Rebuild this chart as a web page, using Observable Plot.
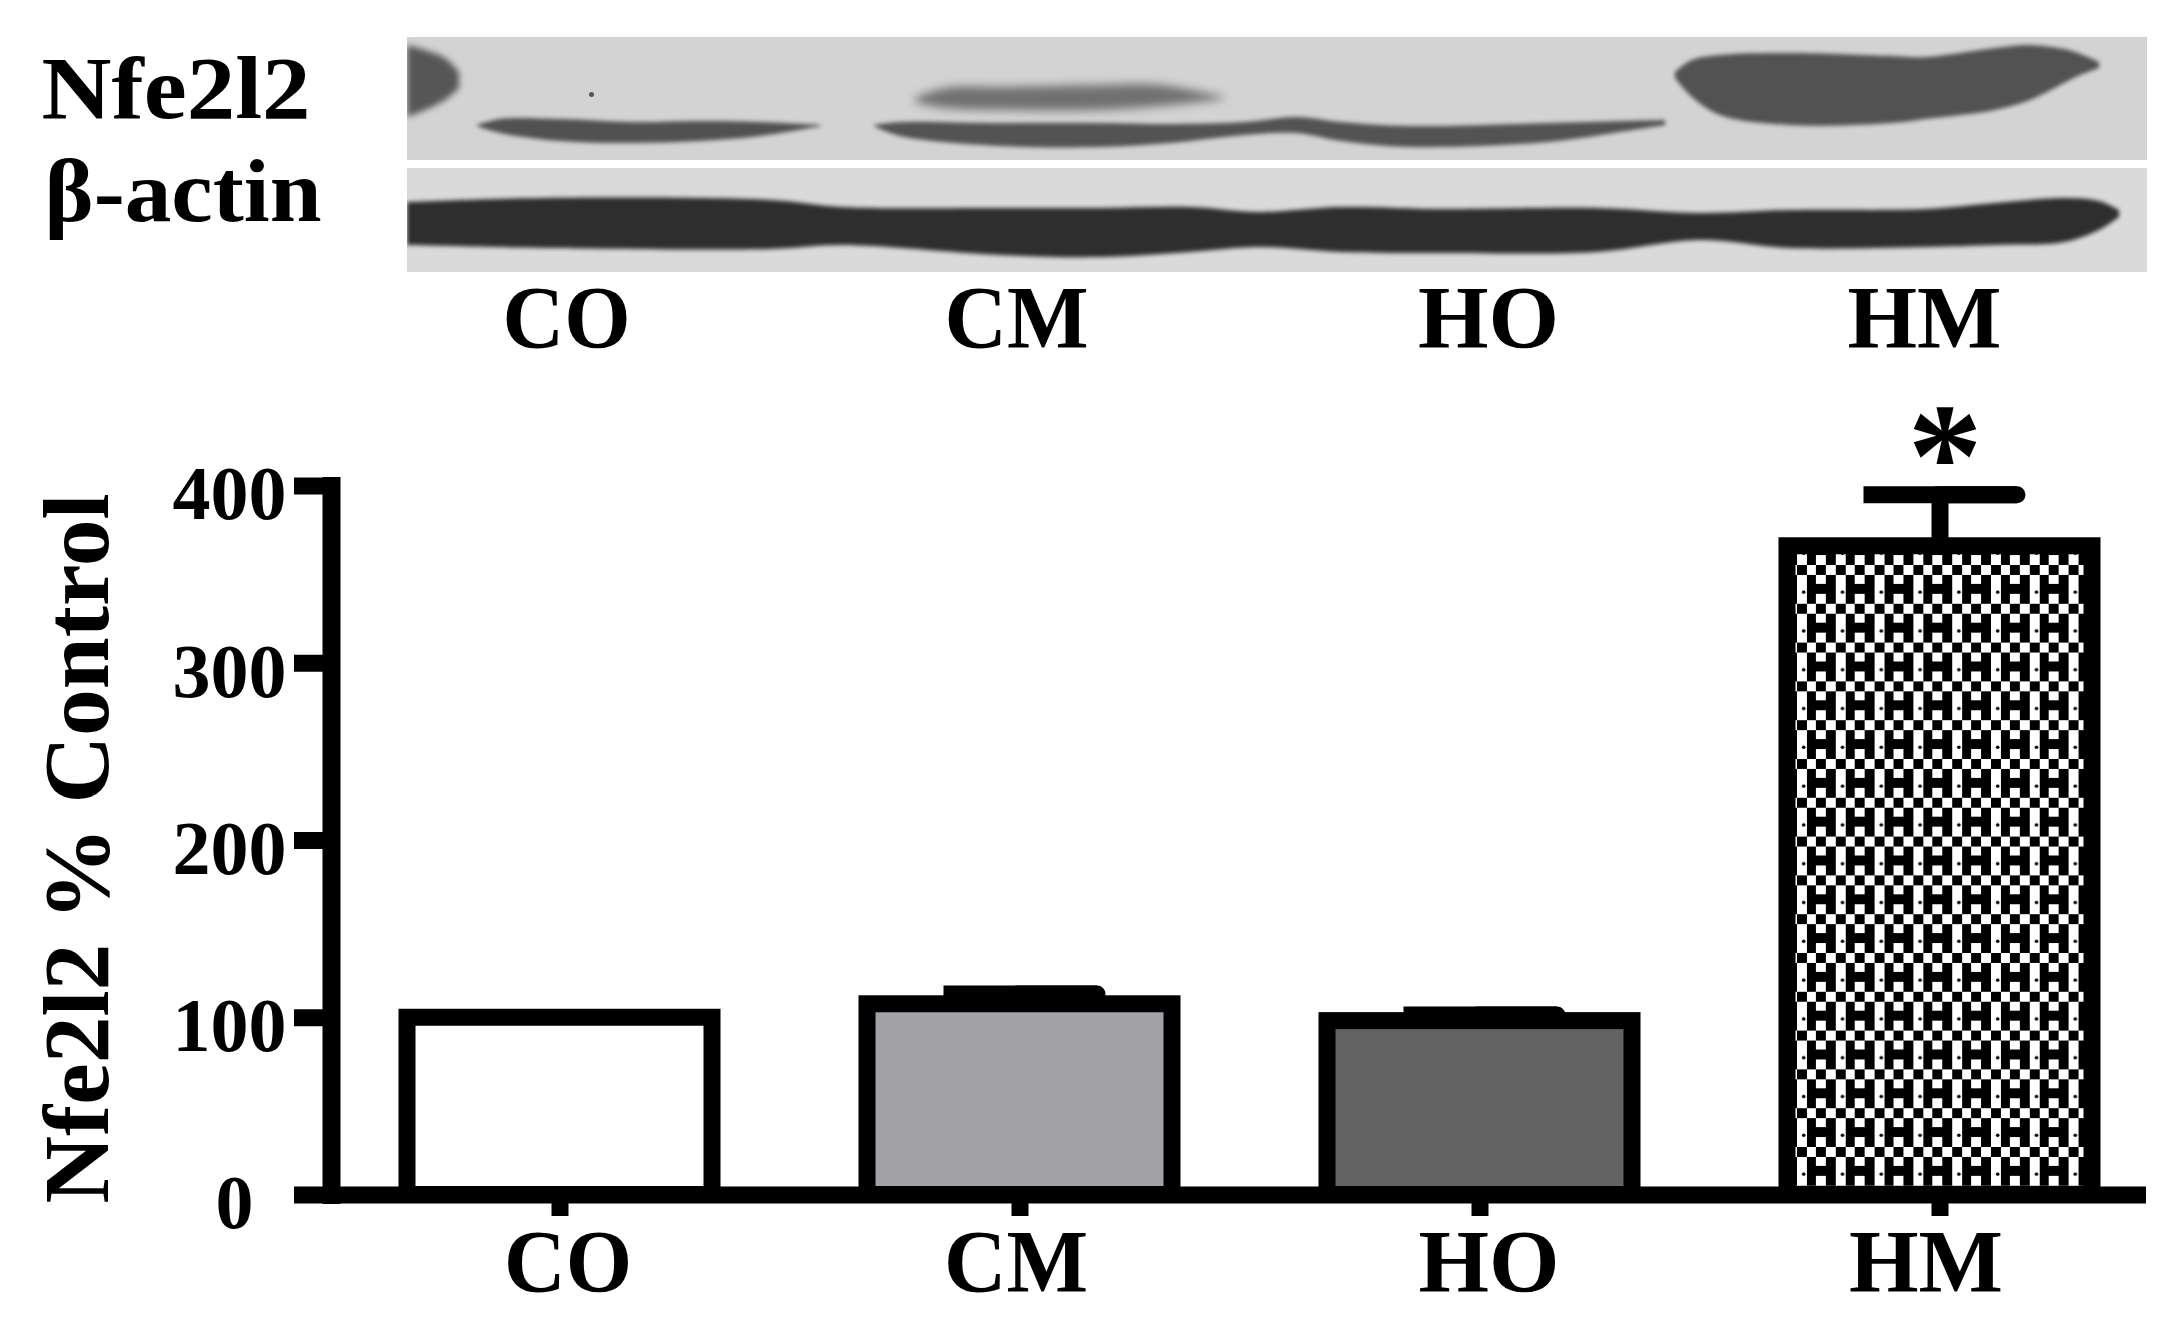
<!DOCTYPE html>
<html>
<head>
<meta charset="utf-8">
<style>
html,body{margin:0;padding:0;background:#fff;width:2180px;height:1332px;overflow:hidden}
svg{display:block;overflow:visible}
</style>
<script src="https://cdn.jsdelivr.net/npm/d3@7"></script>
<script src="https://cdn.jsdelivr.net/npm/@observablehq/plot@0.6"></script>
</head>
<body>
<div id="blot"></div>
<div id="bars"></div>
<script>
// ---- bar chart data
const groups = ["CO", "CM", "HO", "HM"];
const means = [100, 107.6, 98.1, 366];
const uppers = [100, 113.4, 101.6, 395];
const fills = ["#ffffff", "#a2a1a5", "#636363", "url(#checks)"];
const yTicks = [100, 200, 300, 400];
const yZero = [0];
const yTitle = "Nfe2l2 % Control";
const labelDx = [8, -4, 9, -14];
const starValue = [415];

// ---- blot outlines (lane position, top edge, bottom edge)
const blobX = [407, 425, 445, 459];
const blobTop = [45, 50, 58, 72];
const blobBottom = [117, 110, 100, 88];
const coX = [477, 500, 560, 632, 700, 760, 821];
const coTop = [125, 119, 119, 122, 121, 122, 125];
const coBottom = [126, 133, 141, 143, 141, 136, 126];
const cmhoX = [874, 900, 1000, 1100, 1170, 1245, 1296, 1341, 1410, 1548, 1620, 1665];
const cmhoTop = [125, 122, 123, 123, 124, 122, 117, 122, 126, 123, 121, 120];
const cmhoBottom = [126, 136, 146, 147, 143, 135, 133, 141, 147, 142, 132, 125];
const cmUpperX = [915, 945, 1000, 1100, 1160, 1224];
const cmUpperTop = [98, 88, 87, 85, 85, 97];
const cmUpperBottom = [102, 108, 110, 110, 106, 99];
const hmX = [1675, 1692, 1720, 1789, 1892, 1926, 1995, 2030, 2064, 2078, 2099];
const hmTop = [72, 60, 55, 53, 56, 57, 48, 45, 49, 53, 62];
const hmBottom = [78, 97, 115, 125, 123, 119, 110, 100, 83, 76, 68];
const actinX = [407, 544, 770, 842, 1000, 1100, 1190, 1258, 1341, 1444, 1596, 1699, 1789, 1926, 1995, 2064, 2099, 2119];
const actinTop = [202, 198, 200, 207, 208, 208, 207, 212, 207, 209, 208, 213, 210, 209, 203, 198, 201, 210];
const actinBottom = [245, 248, 249, 245, 255, 257, 252, 247, 252, 253, 252, 240, 248, 247, 245, 242, 230, 217];
const speckX = [591];
const speckY = [94];
const panelTop = [37, 168];
const panelBottom = [160, 272];
const panelFill = ["#d3d3d3", "#dadada"];
const rowLabels = ["Nfe2l2", "β-actin"];
const rowLabelX = [41, 44];
const rowLabelY = [117, 220];
const laneLabelX = [566, 1016, 1488, 1924];
const laneLabelY = [346, 346, 346, 346];

const serif = "'Liberation Serif', serif";

const blot = Plot.plot({
  width: 2180, height: 400,
  marginLeft: 407, marginRight: 33, marginTop: 37, marginBottom: 128,
  x: {domain: [407, 2147], axis: null},
  y: {domain: [37, 272], reverse: true, axis: null},
  style: {fontFamily: serif, fontWeight: "bold", background: "#fff", color: "#000"},
  marks: [
    Plot.rect(panelTop, {x1: [407, 407], x2: [2147, 2147], y1: panelTop, y2: panelBottom, fill: {value: panelFill, scale: null}}),
    Plot.areaY(blobX, {x: blobX, y1: blobTop, y2: blobBottom, fill: "#565656", curve: "catmull-rom", imageFilter: "blur(3px)", clip: true}),
    Plot.areaY(coX, {x: coX, y1: coTop, y2: coBottom, fill: "#515151", curve: "catmull-rom", imageFilter: "blur(2px)"}),
    Plot.areaY(cmhoX, {x: cmhoX, y1: cmhoTop, y2: cmhoBottom, fill: "#535353", curve: "catmull-rom", imageFilter: "blur(2px)"}),
    Plot.areaY(cmUpperX, {x: cmUpperX, y1: cmUpperTop, y2: cmUpperBottom, fill: "#707070", curve: "catmull-rom", imageFilter: "blur(5px)"}),
    Plot.areaY(hmX, {x: hmX, y1: hmTop, y2: hmBottom, fill: "#525252", curve: "catmull-rom", imageFilter: "blur(2px)"}),
    Plot.areaY(actinX, {x: actinX, y1: actinTop, y2: actinBottom, fill: "#2e2e2e", curve: "catmull-rom", imageFilter: "blur(2px)", clip: true}),
    Plot.dot(speckX, {x: speckX, y: speckY, r: 2.5, fill: "#555"}),
    Plot.text(rowLabels, {x: rowLabelX, y: rowLabelY, text: rowLabels, textAnchor: "start", lineAnchor: "bottom", fontSize: 88, fill: "#000"}),
    Plot.text(groups, {x: laneLabelX, y: laneLabelY, text: groups, textAnchor: "middle", lineAnchor: "bottom", fontSize: 88, fill: "#000"})
  ]
});

const tile = 38.8, cell = tile / 4;
const tileCells = [[0,0],[2,0],[1,1],[3,1],[1,2],[2,2],[3,2],[1,3],[3,3]];
const defs = () => d3.create("svg:defs").html(
  `<pattern id="checks" patternUnits="userSpaceOnUse" width="${tile}" height="${tile}" patternTransform="translate(1797,165)">
     <rect width="${tile}" height="${tile}" fill="#fff"/>
     ${tileCells.map(([c, r]) => `<rect x="${c * cell}" y="${r * cell}" width="${cell}" height="${cell}" fill="#000" shape-rendering="crispEdges"/>`).join("")}
     <circle cx="6.7" cy="${2 * cell + 7.7}" r="1.8" fill="#000"/>
   </pattern>`).node();

const bars = Plot.plot({
  width: 2180, height: 932,
  marginLeft: 331, marginRight: 34, marginTop: 85.5, marginBottom: 137.5,
  x: {type: "band", domain: groups, paddingInner: 0.337, paddingOuter: 0.1413, align: 0.588},
  y: {domain: [0, 400]},
  style: {fontFamily: serif, fontWeight: "bold", background: "#fff", color: "#000"},
  marks: [
    defs,
    Plot.ruleX(groups, {x: groups, y1: means, y2: uppers, stroke: "#000", strokeWidth: 17}),
    Plot.tickY(groups, {x: groups, y: uppers, stroke: "#000", strokeWidth: 17, insetLeft: 76.5, insetRight: 75}),
    Plot.tickY(groups, {x: groups, y: uppers, stroke: "#000", strokeWidth: 17, strokeLinecap: "round", insetLeft: 150, insetRight: 75}),
    Plot.barY(groups, {x: groups, y: means, fill: {value: fills, scale: null}, stroke: "#000", strokeWidth: 17}),
    Plot.ruleY([0], {stroke: "#000", strokeWidth: 17}),
    Plot.frame({anchor: "left", stroke: "#000", strokeWidth: 18}),
    Plot.axisY({ticks: [...yZero, ...yTicks], tickSize: 37, strokeWidth: 17, tickFormat: () => "", label: null}),
    Plot.axisY({ticks: yTicks, tickSize: 0, tickPadding: 45, dy: 9, fontSize: 76, label: null, fill: "#000"}),
    Plot.axisY({ticks: yZero, tickSize: 0, tickPadding: 78, dy: 9, fontSize: 76, label: null, fill: "#000"}),
    Plot.axisX({tickSize: 21.5, strokeWidth: 17, tickFormat: () => "", label: null}),
    ...groups.map((g, i) => Plot.text([g], {x: [g], y: [0], text: [g], dx: labelDx[i], dy: 95.5, textAnchor: "middle", lineAnchor: "bottom", fontSize: 88, fill: "#000"})),
    Plot.text(["*"], {x: ["HM"], y: starValue, text: ["*"], dx: 5, textAnchor: "middle", fontSize: 150, fill: "#000"}),
    Plot.text([yTitle], {frameAnchor: "left", y: [195.5], text: [yTitle], dx: -224, rotate: -90, textAnchor: "middle", lineAnchor: "bottom", fontSize: 94, fill: "#000"})
  ]
});

document.getElementById("blot").append(blot);
document.getElementById("bars").append(bars);

const widths = {"Nfe2l2": 269, "β-actin": 277, "CO": 128, "CM": 144, "HO": 141, "HM": 154, [yTitle]: 710};
document.querySelectorAll("svg text").forEach(t => {
  const w = widths[t.textContent];
  if (w) { t.setAttribute("textLength", w); t.setAttribute("lengthAdjust", "spacingAndGlyphs"); }
});
</script>
</body>
</html>
